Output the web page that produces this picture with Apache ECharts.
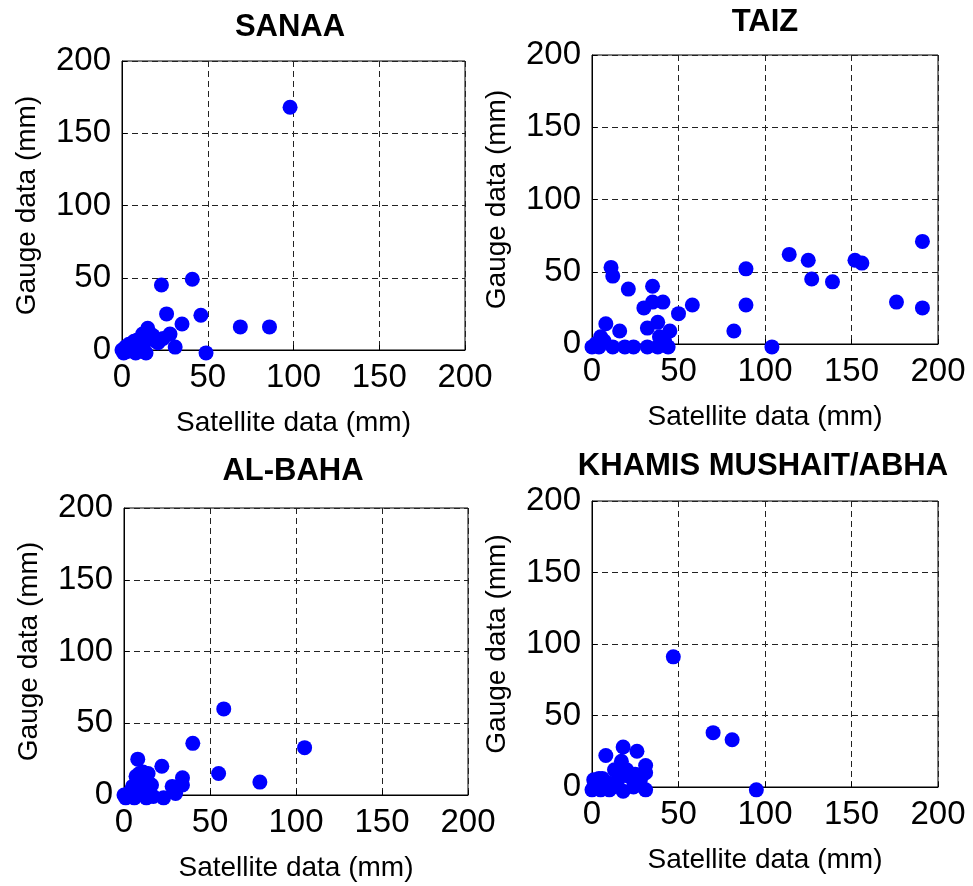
<!DOCTYPE html>
<html>
<head>
<meta charset="utf-8">
<script src="https://cdn.jsdelivr.net/npm/echarts@6/dist/echarts.min.js"></script>
<style>html,body{margin:0;padding:0;background:#fff}#c{width:973px;height:886px}</style>
</head>
<body>
<div id="c"></div>
<script>
var titles = ['SANAA', 'TAIZ', 'AL-BAHA', 'KHAMIS MUSHAIT/ABHA'];
var xName = 'Satellite data (mm)';
var yName = 'Gauge data (mm)';
var tickMin = 0, tickMax = 200, tickStep = 50;

var sanaaX = [98, 23, 41, 26, 46, 35, 69, 86, 49, 31, 28, 15, 0, 1, 2, 3, 4, 5, 6, 7, 8, 9, 10, 12, 13, 14, 17, 18, 20, 21, 24, 12];
var sanaaY = [168, 45, 49, 25, 24, 18, 16, 16, -2, 2, 11, 15, 0, -2, 2, -1, 4, 0, 2, 6, -2, 7, 3, 11, 5, -2, 8, 10, 6, 5, 8, 0];

var taizX = [191, 114, 125, 127, 139, 152, 156, 176, 191, 89, 89, 82, 104, 11, 12, 21, 35, 30, 35, 41, 58, 50, 8, 16, 32, 38, 45, 39, 5, 0, 4, 12, 19, 24, 32, 38, 44, 2, 7, 42];
var taizY = [71, 62, 58, 45, 43, 58, 56, 29, 25, 52, 27, 9, -2, 53, 47, 38, 40, 25, 29, 29, 27, 21, 14, 9, 11, 15, 9, 5, 5, -2, -2, -2, -2, -2, -2, -2, -2, 0, 2, 2];

var bahaX = [58, 105, 40, 55, 79, 8, 22, 34, 34, 28, 30, 23, 14, 9, 16, 11, 7, 5, 3, 0, 1, 6, 10, 12, 14, 8, 10, 13, 17, 4];
var bahaY = [60, 33, 36, 15, 9, 25, 20, 12, 7, 6, 1, -2, 15, 15, 7, 16, 13, 6, -1, 0, -2, -2, 2, 5, 9, 9, 12, -2, -1, 3];

var khamisX = [47, 70, 81, 95, 8, 18, 26, 17, 31, 31, 31, 25, 13, 22, 24, 18, 12, 9, 4, 1, 1, 6, 0, 5, 10, 15, 20, 28];
var khamisY = [91, 38, 33, -2, 22, 28, 25, 18, 15, 10, -2, 9, 12, 7, 0, -3, 0, 3, 6, 0, 5, 6, -2, -2, -2, 5, 12, 5];

var seriesX = [sanaaX, taizX, bahaX, khamisX];
var seriesY = [sanaaY, taizY, bahaY, khamisY];

var grids = [
  {left: 122, top: 61, width: 343, height: 289},
  {left: 592, top: 55, width: 346, height: 289},
  {left: 124, top: 508, width: 344, height: 287},
  {left: 592, top: 501, width: 346, height: 286}
];
var titlePos = [[290, 27], [765, 22], [293, 471], [763, 466]];

var FONT = '"Liberation Sans", Arial, Helvetica, sans-serif';
var option = {
  backgroundColor: '#fff',
  animation: false,
  grid: [], xAxis: [], yAxis: [], series: [], graphic: []
};
for (var i = 0; i < 4; i++) {
  var g = grids[i];
  option.grid.push({left: g.left, top: g.top, width: g.width, height: g.height, show: true, borderColor: '#000', borderWidth: 1, backgroundColor: 'transparent'});
  var common = {
    gridIndex: i, type: 'value', min: tickMin, max: tickMax, interval: tickStep,
    axisLine: {show: true, onZero: false, lineStyle: {color: '#000', width: 1}},
    axisTick: {show: true, inside: true, length: 5, lineStyle: {color: '#000'}},
    axisLabel: {color: '#000', fontSize: 33, fontFamily: FONT, margin: 11},
    splitLine: {show: true, lineStyle: {color: '#222', width: 1, type: [6, 4]}},
    nameLocation: 'middle',
    nameTextStyle: {color: '#000', fontSize: 28, fontFamily: FONT}
  };
  option.xAxis.push(Object.assign({}, common, {name: xName, nameGap: 59}));
  option.yAxis.push(Object.assign({}, common, {name: yName, nameGap: 81}));
  var data = seriesX[i].map(function (v, k) { return [v, seriesY[i][k]]; });
  option.series.push({
    type: 'scatter', xAxisIndex: i, yAxisIndex: i, data: data,
    symbol: 'circle', symbolSize: 15, clip: false,
    itemStyle: {color: '#0000ff', opacity: 1}
  });
  option.graphic.push({
    type: 'text', x: titlePos[i][0], y: titlePos[i][1],
    style: {text: titles[i], fill: '#000', font: 'bold 31px ' + FONT, textAlign: 'center', textVerticalAlign: 'middle'}
  });
}
var chart = echarts.init(document.getElementById('c'), null, {renderer: 'canvas'});
chart.setOption(option);
</script>
</body>
</html>
